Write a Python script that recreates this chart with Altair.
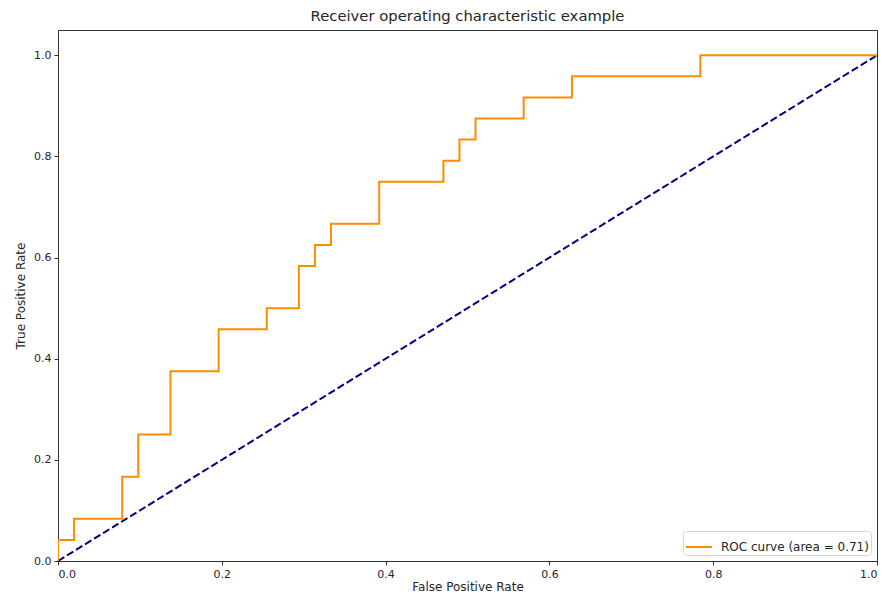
import altair as alt
import pandas as pd

# ROC curve points (false positive rate, true positive rate)
fpr = [0.0, 0.0, 0.0196, 0.0196, 0.0784, 0.0784, 0.0980, 0.0980, 0.1373, 0.1373,
       0.1961, 0.1961, 0.2549, 0.2549, 0.2941, 0.2941, 0.3137, 0.3137, 0.3333, 0.3333,
       0.3922, 0.3922, 0.4706, 0.4706, 0.4902, 0.4902, 0.5098, 0.5098, 0.5686, 0.5686,
       0.6275, 0.6275, 0.7843, 0.7843, 1.0]
tpr = [0.0, 0.0417, 0.0417, 0.0833, 0.0833, 0.1667, 0.1667, 0.25, 0.25, 0.375,
       0.375, 0.4583, 0.4583, 0.5, 0.5, 0.5833, 0.5833, 0.625, 0.625, 0.6667,
       0.6667, 0.75, 0.75, 0.7917, 0.7917, 0.8333, 0.8333, 0.875, 0.875, 0.9167,
       0.9167, 0.9583, 0.9583, 1.0, 1.0]
roc_label = "ROC curve (area = 0.71)"

diag_x = [0.0, 1.0]
diag_y = [0.0, 1.0]
x_ticks = [0.0, 0.2, 0.4, 0.6, 0.8, 1.0]
y_ticks = [0.0, 0.2, 0.4, 0.6, 0.8, 1.0]

roc_df = pd.DataFrame({"fpr": fpr, "tpr": tpr, "series": [roc_label] * len(fpr),
                       "order": list(range(len(fpr)))})
diag_df = pd.DataFrame({"fpr": diag_x, "tpr": diag_y})

font = "DejaVu Sans"
txt = "#262626"

x_enc = alt.X("fpr:Q", scale=alt.Scale(domain=[0, 1], nice=False, zero=False),
              axis=alt.Axis(title="False Positive Rate", values=x_ticks, format=".1f"))
y_enc = alt.Y("tpr:Q", scale=alt.Scale(domain=[0, 1.05], nice=False, zero=False),
              axis=alt.Axis(title="True Positive Rate", values=y_ticks, format=".1f"))

roc = alt.Chart(roc_df).mark_line(strokeWidth=2, clip=True).encode(
    x=x_enc,
    y=y_enc,
    order="order:Q",
    color=alt.Color("series:N",
                    scale=alt.Scale(domain=[roc_label], range=["#FF8C00"]),
                    legend=alt.Legend(title=None, orient="bottom-right", offset=6,
                                      symbolType="stroke", symbolSize=676,
                                      symbolStrokeWidth=2, labelFontSize=12,
                                      labelFont=font, labelColor=txt,
                                      fillColor="white", strokeColor="#d6d6d6",
                                      cornerRadius=3, padding=2, labelOffset=8)),
)

diag = alt.Chart(diag_df).mark_line(strokeWidth=2, color="#000080",
                                    strokeDash=[7.4, 3.2]).encode(
    x="fpr:Q", y="tpr:Q"
)

chart = alt.layer(diag, roc).properties(
    width=819, height=531,
    title=alt.TitleParams("Receiver operating characteristic example", fontSize=14.8,
                          font=font, fontWeight="normal", color=txt, offset=6),
    autosize=alt.AutoSizeParams(type="none"),
    padding={"left": 50, "top": 22, "right": 3, "bottom": 40},
).configure_view(
    stroke="#333333", strokeWidth=1
).configure_axis(
    domainColor="#333333", tickColor="#333333", labelColor=txt,
    titleColor=txt, labelFont=font, titleFont=font, labelFontSize=11,
    titleFontSize=12, titleFontWeight="normal", grid=False, tickSize=4,
    labelPadding=3
).configure_axisY(titlePadding=6).configure_axisX(titlePadding=2)

chart.save("out.html", embed_options={"renderer": "svg", "actions": False})
